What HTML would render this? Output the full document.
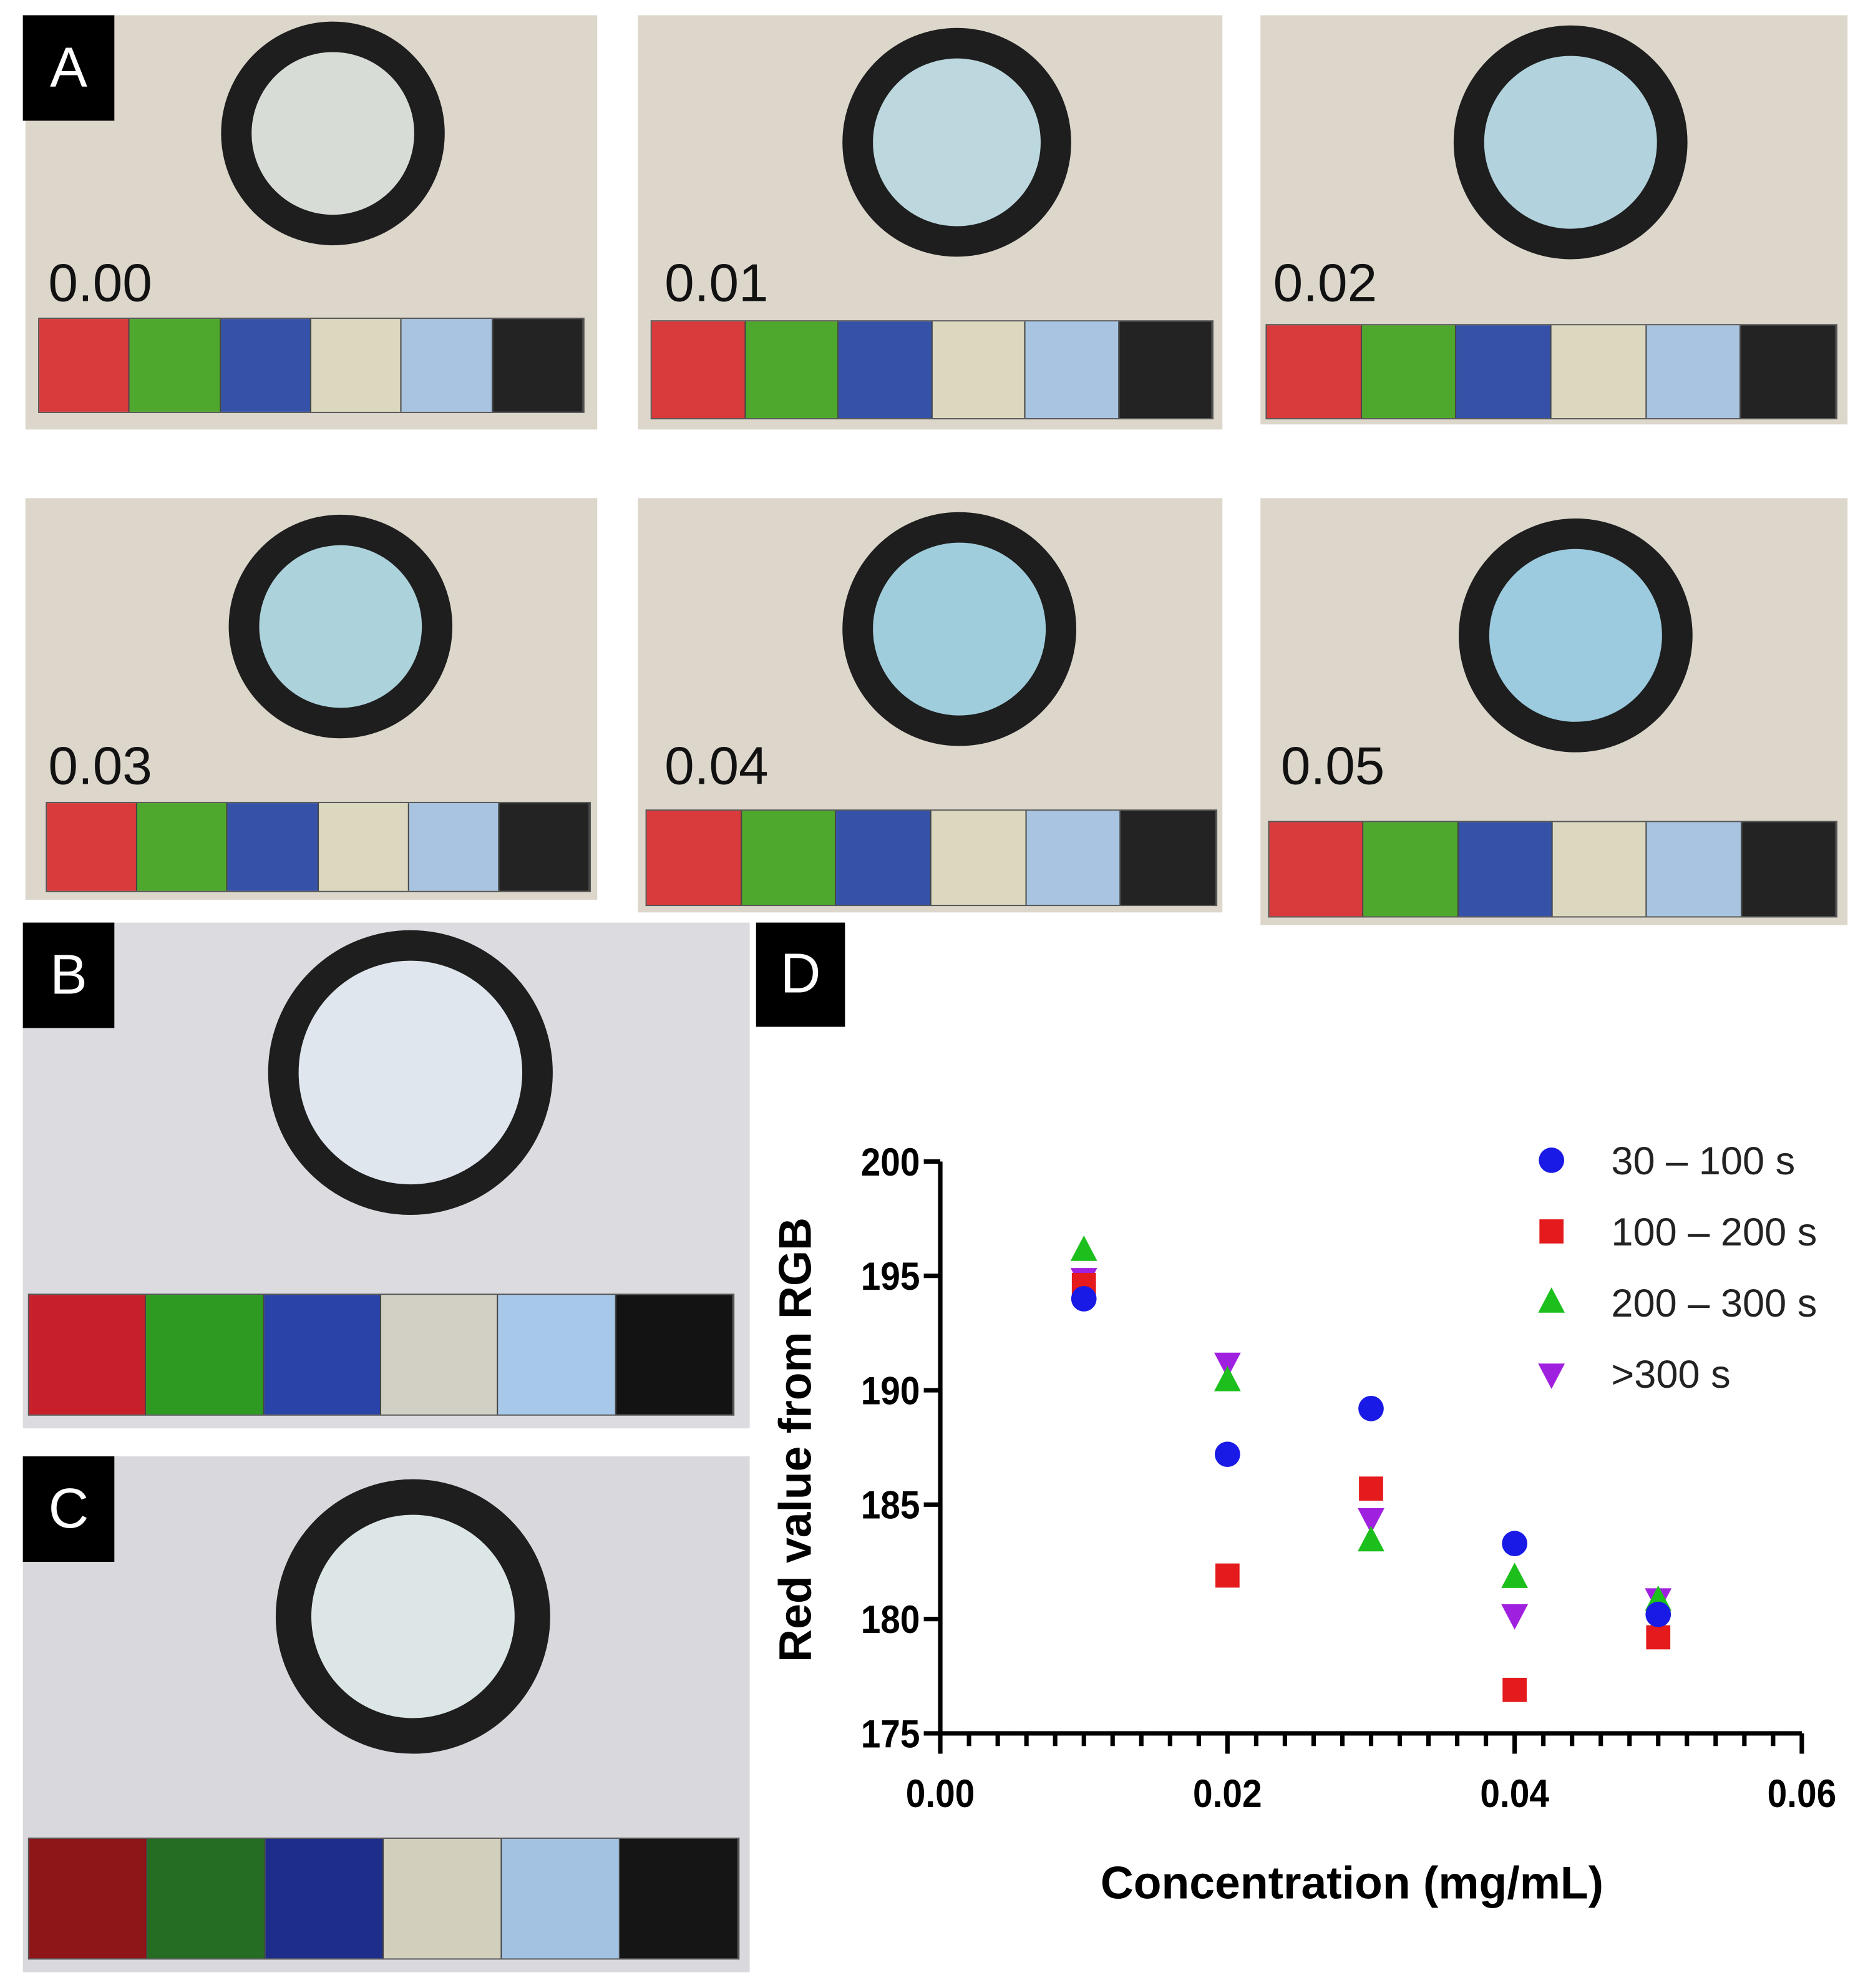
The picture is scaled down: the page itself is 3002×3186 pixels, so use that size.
<!DOCTYPE html>
<html><head><meta charset="utf-8"><style>
html,body{margin:0;padding:0;background:#fff;}
body{width:3002px;height:3186px;overflow:hidden;position:relative;}
#wrap{position:absolute;left:0;top:0;width:1474px;height:1564px;transform:scale(2.0366);transform-origin:0 0;font-family:"Liberation Sans",sans-serif;}
.panel{position:absolute;}
.lbl{position:absolute;background:#000;color:#fff;font-size:44px;display:flex;align-items:center;justify-content:center;}
.num{position:absolute;font-size:42px;color:#111;line-height:1;}
.bar{position:absolute;display:flex;border:1px solid #555;box-sizing:border-box;}
.bar div{flex:1;border-right:1px solid #444;}
.ring{position:absolute;border-radius:50%;box-sizing:border-box;border-style:solid;border-color:#1e1e1e;}
</style></head><body>
<div id="wrap"></div>
<script>
const wrap=document.getElementById('wrap');
const panels=[
 {n:'panel-a-0-00',x:20,y:12,w:450,h:326,cx:262,cy:105,r:88,rw:24,t:'0.00',tx:38,ty:202,b:[30,250,430,75],bg:'#dcd6cb',inner:'#d8dcd6',sw:['#d93a3c','#4fa82e','#3652a8','#dcd8bf','#a8c4e0','#232323']},
 {n:'panel-a-0-01',x:502,y:12,w:460,h:326,cx:753,cy:112,r:90,rw:24,t:'0.01',tx:523,ty:202,b:[512,252,443,78],bg:'#dcd6cb',inner:'#bcd7de',sw:['#d93a3c','#4fa82e','#3652a8','#dcd8bf','#a8c4e0','#232323']},
 {n:'panel-a-0-02',x:992,y:12,w:462,h:322,cx:1236,cy:112,r:92,rw:24,t:'0.02',tx:1002,ty:202,b:[996,255,450,75],bg:'#dcd6cb',inner:'#b2d3de',sw:['#d93a3c','#4fa82e','#3652a8','#dcd8bf','#a8c4e0','#232323']},
 {n:'panel-a-0-03',x:20,y:392,w:450,h:316,cx:268,cy:493,r:88,rw:24,t:'0.03',tx:38,ty:582,b:[36,631,429,71],bg:'#dcd6cb',inner:'#acd2dc',sw:['#d93a3c','#4fa82e','#3652a8','#dcd8bf','#a8c4e0','#232323']},
 {n:'panel-a-0-04',x:502,y:392,w:460,h:326,cx:755,cy:495,r:92,rw:24,t:'0.04',tx:523,ty:582,b:[508,637,450,76],bg:'#dcd6cb',inner:'#a0cddc',sw:['#d93a3c','#4fa82e','#3652a8','#dcd8bf','#a8c4e0','#232323']},
 {n:'panel-a-0-05',x:992,y:392,w:462,h:336,cx:1240,cy:500,r:92,rw:24,t:'0.05',tx:1008,ty:582,b:[998,646,448,76],bg:'#dcd6cb',inner:'#9ccade',sw:['#d93a3c','#4fa82e','#3652a8','#dcd8bf','#a8c4e0','#232323']},
 {n:'panel-b',x:18,y:726,w:572,h:398,cx:323,cy:844,r:112,rw:24,t:'',b:[22,1018,556,96],bg:'#dcdbe0',inner:'#dfe6ee',sw:['#c8202a','#2e9a22','#2a43a8','#d2d0c4','#a8c8ea','#131313']},
 {n:'panel-c',x:18,y:1146,w:572,h:406,cx:325,cy:1272,r:108,rw:28,t:'',b:[22,1446,560,96],bg:'#d9d8dd',inner:'#dde6e6',sw:['#8e1518','#246d22','#1e2d8a','#d3cfbd','#a3c2e2','#151515']}
];
panels.forEach(p=>{
 const d=document.createElement('div');d.className='panel';
 
 
 d.style.cssText=`left:${p.x}px;top:${p.y}px;width:${p.w}px;height:${p.h}px;background:${p.bg};`;
 wrap.appendChild(d);
 const r=document.createElement('div');r.className='ring';
 
 
 r.style.cssText=`left:${p.cx-p.r-p.x}px;top:${p.cy-p.r-p.y}px;width:${2*p.r}px;height:${2*p.r}px;border-width:${p.rw}px;background:${p.inner};`;
 d.appendChild(r);
 if(p.t){const t=document.createElement('div');t.className='num';
  
  
  t.textContent=p.t;t.style.left=(p.tx-p.x)+'px';t.style.top=(p.ty-p.y)+'px';d.appendChild(t);}
 const b=document.createElement('div');b.className='bar';
 
 
 b.style.cssText=`left:${p.b[0]-p.x}px;top:${p.b[1]-p.y}px;width:${p.b[2]}px;height:${p.b[3]}px;`;
 p.sw.forEach(c=>{const s=document.createElement('div');s.style.background=c;b.appendChild(s);});
 d.appendChild(b);
});
[['A',18,12,72,83],['B',18,726,72,83],['C',18,1146,72,83],['D',595,726,70,82]].forEach(l=>{
 const e=document.createElement('div');e.className='lbl';
 
 
 e.textContent=l[0];e.style.cssText=`left:${l[1]}px;top:${l[2]}px;width:${l[3]}px;height:${l[4]}px;`;
 wrap.appendChild(e);
});
</script>
<script>
const xs=[0.01,0.02,0.03,0.04,0.05];
const s30_100=[194.0,187.2,189.2,183.3,180.2];
const s100_200=[194.6,181.9,185.7,176.9,179.2];
const s200_300=[196.1,190.4,183.4,181.8,180.8];
const s300=[194.9,191.2,184.4,180.2,180.9];
const yTicks=[175,180,185,190,195,200];
const xTicks=[0.00,0.02,0.04,0.06];
const legendLabels=['30 – 100 s','100 – 200 s','200 – 300 s','>300 s'];
const NS='http://www.w3.org/2000/svg';
const X0=740,X1=1418,Y0=1364,Y1=914;
const sx=v=>X0+(v-0)/(0.06)*(X1-X0);
const sy=v=>Y0-(v-175)/25*(Y0-Y1);
const svg=document.createElementNS(NS,'svg');
svg.setAttribute('width','1474');svg.setAttribute('height','1564');
svg.style.cssText='position:absolute;left:0;top:0;';


wrap.appendChild(svg);
function el(tag,attrs,parent){const e=document.createElementNS(NS,tag);for(const k in attrs)e.setAttribute(k,attrs[k]);(parent||svg).appendChild(e);return e;}
const ax=el('g',{stroke:'#000','stroke-width':3.5,fill:'none'});


el('line',{x1:X0,y1:Y1,x2:X0,y2:Y0+1.5},ax);
el('line',{x1:X0-1.5,y1:Y0,x2:X1,y2:Y0},ax);
yTicks.forEach(v=>{
 el('line',{x1:X0-13,y1:sy(v),x2:X0,y2:sy(v)},ax);
 const t=el('text',{x:X0-16,y:sy(v)+11,'text-anchor':'end','font-size':31,'font-weight':'bold','font-family':'Liberation Sans, sans-serif',transform:`translate(${(X0-16)*0.1} 0) scale(0.9 1)`});
 
 
 t.textContent=v;
});
for(let i=0;i<=30;i++){const v=i*0.002;const maj=i%10===0;
 el('line',{x1:sx(v),y1:Y0,x2:sx(v),y2:Y0+(maj?16:10)},ax);}
xTicks.forEach(v=>{
 const t=el('text',{x:sx(v),y:1422,'text-anchor':'middle','font-size':31,'font-weight':'bold','font-family':'Liberation Sans, sans-serif',transform:`translate(${sx(v)*0.1} 0) scale(0.9 1)`});
 
 
 t.textContent=v.toFixed(2);
});
const xt=el('text',{x:1064,y:1494,'text-anchor':'middle','font-size':36,'font-weight':'bold','font-family':'Liberation Sans, sans-serif'});


xt.textContent='Concentration (mg/mL)';
const yt=el('text',{x:0,y:0,'text-anchor':'middle','font-size':36,'font-weight':'bold','font-family':'Liberation Sans, sans-serif',transform:'translate(638,1133) rotate(-90)'});


yt.textContent='Red value from RGB';
function marker(kind,x,y,parent){
 if(kind===0)return el('circle',{cx:x,cy:y,r:10,fill:'#1a1ae6'},parent);
 if(kind===1)return el('rect',{x:x-9.5,y:y-9.5,width:19,height:19,fill:'#e41a1c'},parent);
 if(kind===2)return el('polygon',{points:`${x},${y-12} ${x-10.5},${y+8} ${x+10.5},${y+8}`,fill:'#1dbf1d'},parent);
 return el('polygon',{points:`${x},${y+12} ${x-10.5},${y-8} ${x+10.5},${y-8}`,fill:'#a020e0'},parent);
}
const series=[s30_100,s100_200,s200_300,s300];
const names=['30-100s','100-200s','200-300s','over-300s'];
[3,2,1,0].forEach(k=>{
 const g=el('g',{});
 
 
 xs.forEach((xv,i)=>{const m=marker(k,sx(xv),sy(series[k][i]),g);
  
  });
});
legendLabels.forEach((lab,i)=>{
 const g=el('g',{});
 
 
 const y=913+i*56;
 marker(i,1221,y,g);
 const t=el('text',{x:1268,y:y+11,'font-size':31,'font-family':'Liberation Sans, sans-serif',fill:'#222'},g);
 t.textContent=lab;
});
</script>
</body></html>
